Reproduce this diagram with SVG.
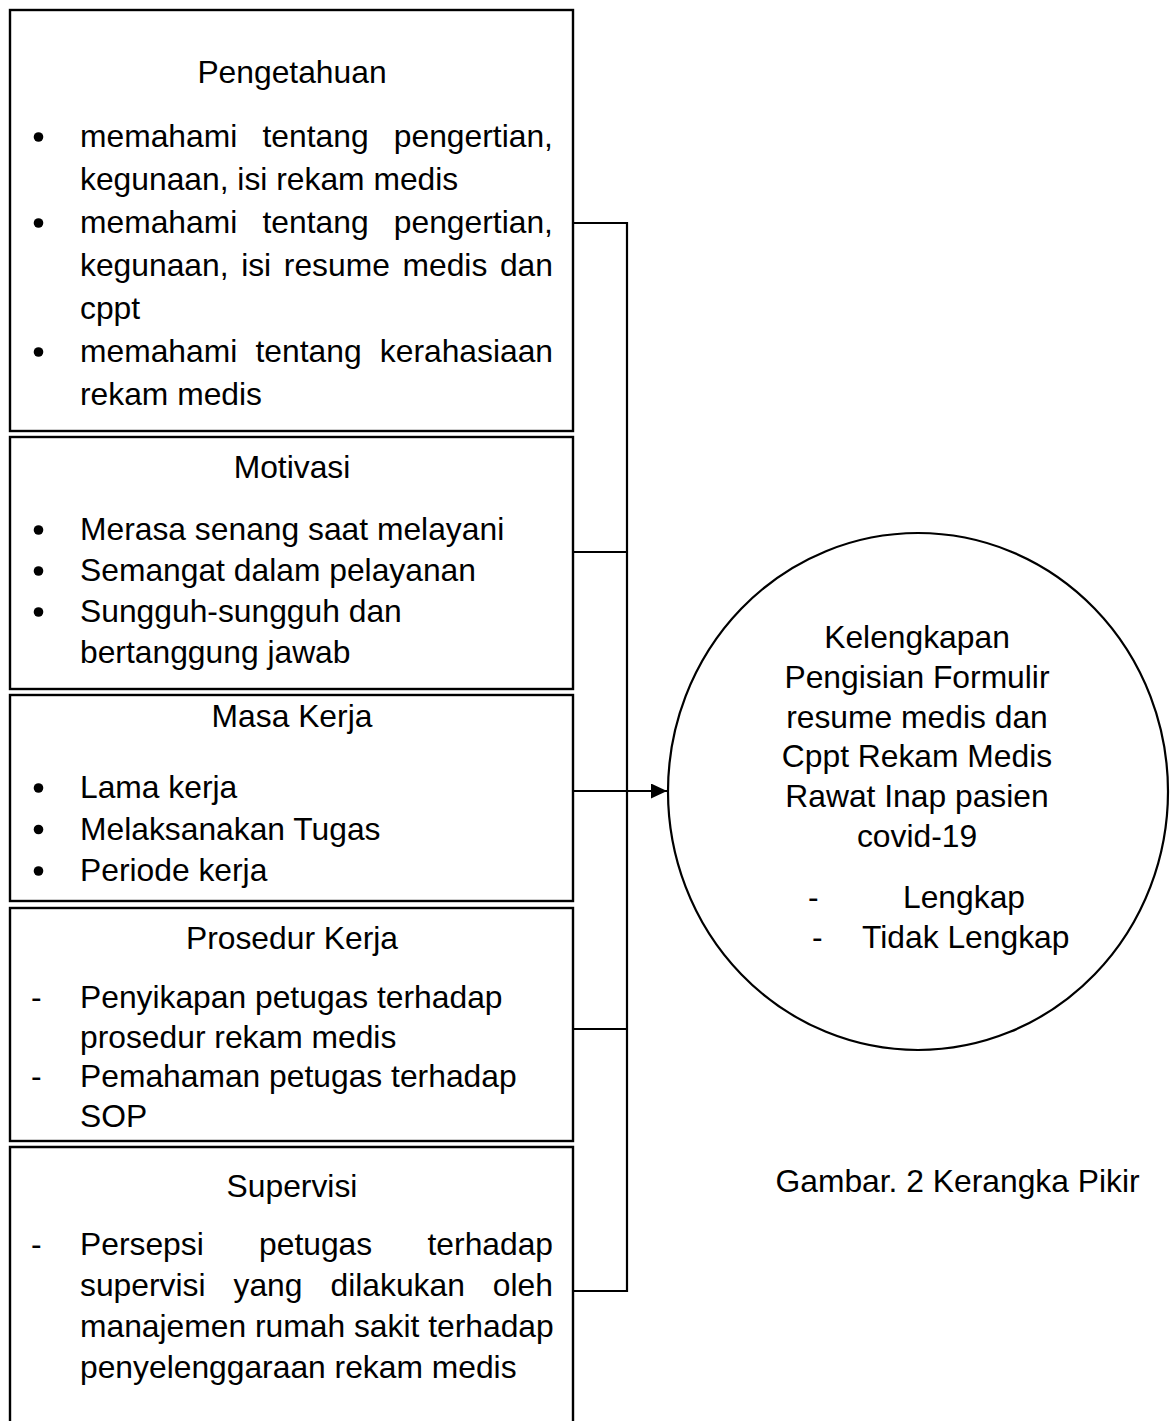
<svg xmlns="http://www.w3.org/2000/svg" width="1176" height="1421" viewBox="0 0 1176 1421">
<style>
text{font-family:"Liberation Sans",Arial,sans-serif;font-size:31.8px;fill:#000}
.t{text-anchor:middle}
.box{fill:none;stroke:#000;stroke-width:2.4}
.ln{fill:none;stroke:#000;stroke-width:2.2}
.b{fill:#000}
</style>
<defs>
<marker id="ah" markerUnits="userSpaceOnUse" markerWidth="16" markerHeight="15" viewBox="0 0 16 15" refX="16" refY="7.5" orient="auto">
<path d="M0,0 L16,7.5 L0,15 z" fill="#000"/>
</marker>
</defs>
<rect width="1176" height="1421" fill="#fff"/>
<g id="connectors">
<line class="ln" x1="573" y1="223" x2="628" y2="223"/>
<line class="ln" x1="573" y1="552" x2="628" y2="552"/>
<line class="ln" x1="573" y1="1029" x2="628" y2="1029"/>
<line class="ln" x1="573" y1="1291" x2="628" y2="1291"/>
<line class="ln" x1="627" y1="222" x2="627" y2="1292"/>
<line class="ln" x1="573" y1="791" x2="667" y2="791" marker-end="url(#ah)"/>
</g>
<g id="pengetahuan">
<rect class="box" x="10" y="10" width="563" height="421"/>
<text class="t" x="292" y="83">Pengetahuan</text>
<circle class="b" cx="38.5" cy="137" r="4.8"/>
<text x="80" y="147" style="word-spacing:16.4px">memahami tentang pengertian,</text>
<text x="80" y="190">kegunaan, isi rekam medis</text>
<circle class="b" cx="38.5" cy="223" r="4.8"/>
<text x="80" y="233" style="word-spacing:16.4px">memahami tentang pengertian,</text>
<text x="80" y="276" style="word-spacing:3.8px">kegunaan, isi resume medis dan</text>
<text x="80" y="319">cppt</text>
<circle class="b" cx="38.5" cy="352" r="4.8"/>
<text x="80" y="362" style="word-spacing:9.4px">memahami tentang kerahasiaan</text>
<text x="80" y="405">rekam medis</text>
</g>
<g id="motivasi">
<rect class="box" x="10" y="437" width="563" height="252"/>
<text class="t" x="292" y="478">Motivasi</text>
<circle class="b" cx="38.5" cy="530" r="4.8"/>
<text x="80" y="540">Merasa senang saat melayani</text>
<circle class="b" cx="38.5" cy="571" r="4.8"/>
<text x="80" y="581">Semangat dalam pelayanan</text>
<circle class="b" cx="38.5" cy="612" r="4.8"/>
<text x="80" y="622">Sungguh-sungguh dan</text>
<text x="80" y="663">bertanggung jawab</text>
</g>
<g id="masa-kerja">
<rect class="box" x="10" y="695" width="563" height="206"/>
<text class="t" x="292" y="727">Masa Kerja</text>
<circle class="b" cx="38.5" cy="788" r="4.8"/>
<text x="80" y="798">Lama kerja</text>
<circle class="b" cx="38.5" cy="829.5" r="4.8"/>
<text x="80" y="839.5">Melaksanakan Tugas</text>
<circle class="b" cx="38.5" cy="871" r="4.8"/>
<text x="80" y="881">Periode kerja</text>
</g>
<g id="prosedur-kerja">
<rect class="box" x="10" y="908" width="563" height="233"/>
<text class="t" x="292" y="949">Prosedur Kerja</text>
<text x="31" y="1008">-</text>
<text x="80" y="1008">Penyikapan petugas terhadap</text>
<text x="80" y="1048">prosedur rekam medis</text>
<text x="31" y="1087">-</text>
<text x="80" y="1087">Pemahaman petugas terhadap</text>
<text x="80" y="1127">SOP</text>
</g>
<g id="supervisi">
<path class="box" d="M10,1425 L10,1147 L573,1147 L573,1425"/>
<text class="t" x="292" y="1197">Supervisi</text>
<text x="31" y="1255">-</text>
<text x="80" y="1255" style="word-spacing:46.5px">Persepsi petugas terhadap</text>
<text x="80" y="1296" style="word-spacing:19.2px">supervisi yang dilakukan oleh</text>
<text x="80" y="1337">manajemen rumah sakit terhadap</text>
<text x="80" y="1378">penyelenggaraan rekam medis</text>
</g>
<g id="kelengkapan">
<ellipse class="ln" cx="918" cy="791.5" rx="250" ry="258.5"/>
<text class="t" x="917" y="648">Kelengkapan</text>
<text class="t" x="917" y="688">Pengisian Formulir</text>
<text class="t" x="917" y="728">resume medis dan</text>
<text class="t" x="917" y="767">Cppt Rekam Medis</text>
<text class="t" x="917" y="807">Rawat Inap pasien</text>
<text class="t" x="917" y="847">covid-19</text>
<text x="808" y="908">-</text>
<text x="903" y="908">Lengkap</text>
<text x="812" y="948">-</text>
<text x="862" y="948">Tidak Lengkap</text>
</g>
<g id="caption">
<text x="775.5" y="1192">Gambar. 2 Kerangka Pikir</text>
</g>
</svg>
